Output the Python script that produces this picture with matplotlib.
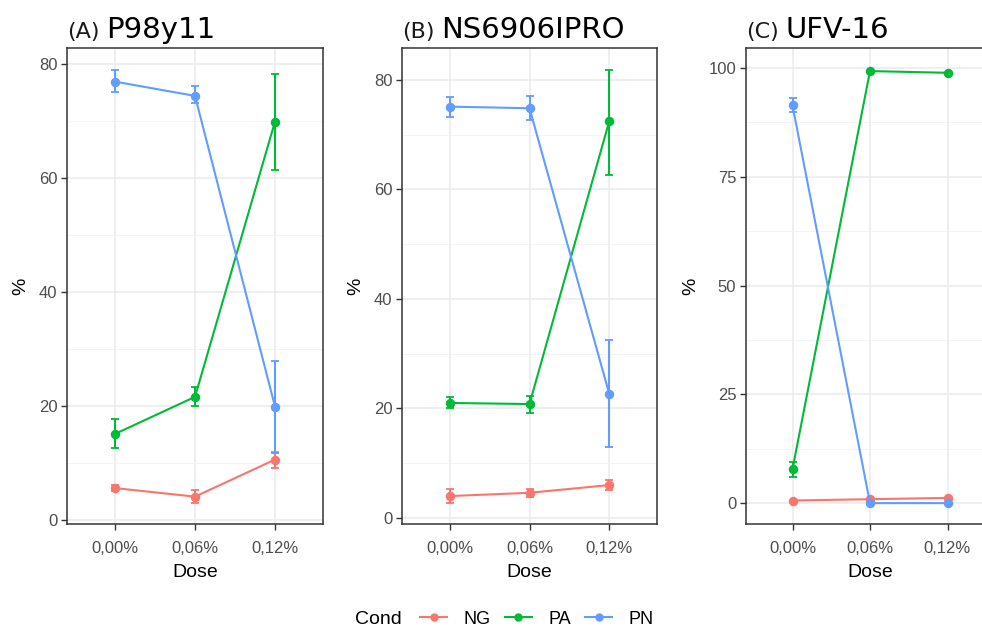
import matplotlib.pyplot as plt
from matplotlib.lines import Line2D
from matplotlib.ticker import MultipleLocator

# dados
doses = ['0,00%', '0,06%', '0,12%']
conds = ['NG', 'PA', 'PN']
cores = {'NG': '#F8766D', 'PA': '#00BA38', 'PN': '#619CFF'}

tags = ['(A)', '(B)', '(C)']
cultivares = ['P98y11', 'NS6906IPRO', 'UFV-16']

# média e erro (inferior, superior) por cultivar
a_media = {'NG': [5.6, 4.1, 10.6], 'PA': [15.1, 21.6, 69.9], 'PN': [76.9, 74.4, 19.9]}
a_inf = {'NG': [5.1, 2.9, 9.2], 'PA': [12.6, 20.0, 61.4], 'PN': [75.0, 73.1, 11.8]}
a_sup = {'NG': [6.1, 5.3, 12.0], 'PA': [17.7, 23.3, 78.2], 'PN': [78.9, 76.1, 27.9]}

b_media = {'NG': [4.0, 4.6, 6.0], 'PA': [21.0, 20.8, 72.4], 'PN': [75.1, 74.8, 22.7]}
b_inf = {'NG': [2.7, 3.8, 5.1], 'PA': [20.0, 19.2, 62.6], 'PN': [73.2, 72.7, 13.0]}
b_sup = {'NG': [5.3, 5.3, 6.9], 'PA': [22.0, 22.3, 81.8], 'PN': [76.8, 77.0, 32.5]}

c_media = {'NG': [0.6, 0.9, 1.2], 'PA': [7.8, 99.3, 98.9], 'PN': [91.4, 0.0, 0.0]}
c_inf = {'NG': [0.6, 0.9, 1.2], 'PA': [6.0, 99.3, 98.9], 'PN': [89.9, 0.0, 0.0]}
c_sup = {'NG': [0.6, 0.9, 1.2], 'PA': [9.5, 99.3, 98.9], 'PN': [93.0, 0.0, 0.0]}

paineis = [
    (a_media, a_inf, a_sup, (-0.7, 82.8), 20, 10),
    (b_media, b_inf, b_sup, (-1.1, 85.8), 20, 10),
    (c_media, c_inf, c_sup, (-4.8, 104.6), 25, 12.5),
]

W, H = 982, 627
fig = plt.figure(figsize=(W / 100, H / 100), dpi=100)
plt.rcParams['font.family'] = ['Liberation Sans', 'DejaVu Sans']

# posições dos painéis em pixels (esquerda, direita)
pos_px = [(67, 323), (402, 657), (746, 994)]
topo, base = 48, 524

for i, (media, inf, sup, ylim, maj, mnr) in enumerate(paineis):
    l, r = pos_px[i]
    ax = fig.add_axes([l / W, 1 - base / H, (r - l) / W, (base - topo) / H])
    x = list(range(len(doses)))
    for c in conds:
        yerr = [[m - lo for m, lo in zip(media[c], inf[c])],
                [hi - m for m, hi in zip(media[c], sup[c])]]
        ax.errorbar(x, media[c], yerr=yerr, color=cores[c], lw=1.5,
                    marker='o', ms=5.8, capsize=2.6, capthick=1.3,
                    elinewidth=1.5, zorder=3)
    ax.set_xlim(-0.6, 2.6)
    ax.set_ylim(*ylim)
    ax.set_xticks(x)
    ax.set_xticklabels(doses)
    ax.yaxis.set_major_locator(MultipleLocator(maj))
    ax.yaxis.set_minor_locator(MultipleLocator(mnr))
    ax.grid(True, which='major', color='#EBEBEB', lw=1.1, zorder=0)
    ax.grid(True, which='minor', axis='y', color='#F2F2F2', lw=0.6, zorder=0)
    ax.set_axisbelow(True)
    ax.tick_params(which='major', length=4, width=1, color='#333333',
                   labelcolor='#4D4D4D', labelsize=12)
    ax.tick_params(axis='x', pad=8)
    ax.tick_params(axis='y', pad=3)
    ax.tick_params(which='minor', length=0)
    for s in ax.spines.values():
        s.set_color('#333333')
        s.set_linewidth(1.1)
    ax.set_xlabel('Dose', fontsize=14, labelpad=6)
    ax.set_ylabel('%', fontsize=14, labelpad=7)

    t = ax.text(0, 1.012, tags[i], transform=ax.transAxes, fontsize=16,
                family='DejaVu Sans', va='bottom', ha='left', color='#1a1a1a')
    ax.annotate(cultivares[i], xy=(1, 0), xycoords=t, xytext=(5, -1),
                textcoords='offset points', fontsize=21, family='DejaVu Sans',
                va='bottom', ha='left')

# legenda inferior
fig.text(355 / W, 1 - 619 / H, 'Cond', fontsize=14, va='center', ha='left')
handles = [Line2D([0], [0], color=cores[c], lw=1.5, marker='o', ms=5) for c in conds]
fig.legend(handles, conds, loc='center left', bbox_to_anchor=(420 / W, 1 - 619 / H),
           ncol=3, frameon=False, fontsize=13, handlelength=1.5,
           handletextpad=0.9, columnspacing=0.8, borderpad=0, borderaxespad=0)

fig.savefig('out.png', dpi=100)
